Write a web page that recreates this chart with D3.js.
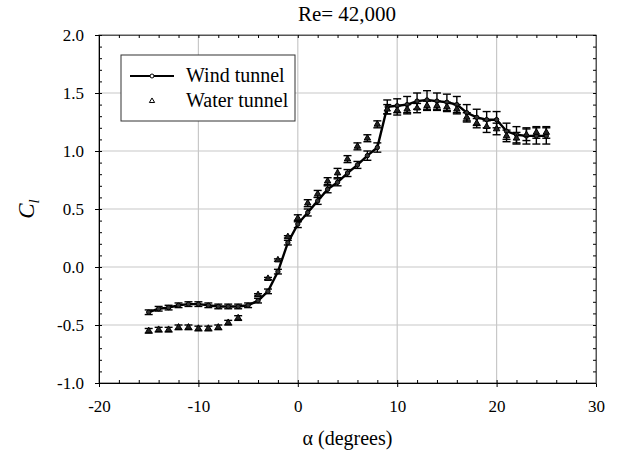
<!DOCTYPE html>
<html>
<head>
<meta charset="utf-8">
<script src="https://cdn.jsdelivr.net/npm/d3@7"></script>
<style>
body { margin: 0; background: #fff; }
</style>
</head>
<body>
<div id="chart"></div>
<script>
// angle of attack, degrees
var alphas = [-15,-14,-13,-12,-11,-10,-9,-8,-7,-6,-5,-4,-3,-2,-1,0,1,2,3,4,5,6,7,8,9,10,11,12,13,14,15,16,17,18,19,20,21,22,23,24,25];

var windCl = [-0.39,-0.36,-0.35,-0.33,-0.32,-0.32,-0.33,-0.34,-0.34,-0.34,-0.33,-0.29,-0.21,-0.04,0.21,0.37,0.47,0.57,0.67,0.73,0.81,0.88,0.96,1.03,1.38,1.39,1.40,1.43,1.44,1.43,1.42,1.40,1.33,1.29,1.27,1.27,1.17,1.14,1.13,1.13,1.13];
var windErr = [0.02,0.02,0.02,0.02,0.02,0.02,0.02,0.02,0.02,0.02,0.02,0.02,0.02,0.02,0.02,0.03,0.03,0.03,0.03,0.03,0.03,0.03,0.04,0.04,0.06,0.06,0.07,0.07,0.08,0.07,0.07,0.07,0.07,0.07,0.07,0.07,0.07,0.07,0.07,0.07,0.07];

var waterCl = [-0.55,-0.54,-0.54,-0.52,-0.52,-0.53,-0.53,-0.52,-0.48,-0.44,null,-0.24,-0.10,0.06,0.26,0.42,0.55,0.63,0.74,0.81,0.93,1.04,1.11,1.23,1.36,1.35,1.36,1.37,1.39,1.39,1.38,1.36,1.29,1.24,1.21,1.19,1.13,1.11,1.14,1.16,1.16];
var waterErr = [0.02,0.02,0.02,0.02,0.02,0.02,0.02,0.02,0.02,0.02,0.02,0.01,0.01,0.01,0.01,0.03,0.03,0.03,0.03,0.04,0.03,0.03,0.03,0.03,0.04,0.04,0.04,0.04,0.04,0.04,0.04,0.04,0.04,0.04,0.05,0.05,0.05,0.05,0.05,0.05,0.05];

var xTicks = [-20,-10,0,10,20,30];
var yTicks = [-1.0,-0.5,0.0,0.5,1.0,1.5,2.0];
var seriesNames = ["Wind tunnel", "Water tunnel"];

var serif = "'Liberation Serif'";
var width = 617, height = 461;
var margin = {top: 35, right: 21, bottom: 78, left: 99};
var w = width - margin.left - margin.right;
var h = height - margin.top - margin.bottom;

var svg = d3.select("#chart").append("svg")
    .attr("width", width)
    .attr("height", height);

var g = svg.append("g")
    .attr("transform", "translate(" + margin.left + "," + margin.top + ")");

var x = d3.scaleLinear().domain([-20, 30]).range([0, w]);
var y = d3.scaleLinear().domain([-1, 2]).range([h, 0]);

// grid
g.selectAll(".vgrid").data(xTicks.slice(1, -1)).enter().append("line")
    .attr("x1", function (d) { return x(d); }).attr("x2", function (d) { return x(d); })
    .attr("y1", 0).attr("y2", h)
    .attr("stroke", "#c8c8c8").attr("stroke-width", 1.2);
g.selectAll(".hgrid").data(yTicks.slice(1, -1)).enter().append("line")
    .attr("y1", function (d) { return y(d); }).attr("y2", function (d) { return y(d); })
    .attr("x1", 0).attr("x2", w)
    .attr("stroke", "#c8c8c8").attr("stroke-width", 1.2);

// frame
g.append("rect").attr("width", w).attr("height", h)
    .attr("fill", "none").attr("stroke", "#555").attr("stroke-width", 1);

// axes (hyphen minus like the original)
var xMinor = d3.range(-20, 30.01, 2);
var yMinor = d3.range(-1, 2.001, 0.1);
function fmtX(d) { return String(d); }
function fmtY(d) { return d.toFixed(1); }

var xAxis = g.append("g").attr("transform", "translate(0," + h + ")")
    .call(d3.axisBottom(x).tickValues(xTicks).tickSize(4).tickPadding(13).tickFormat(fmtX));
xAxis.attr("font-family", null).attr("font-size", null);
xAxis.select(".domain").attr("stroke", "#000");
xAxis.selectAll("text").style("font-size", "17px").style("font-family", serif);

g.append("g").attr("transform", "translate(0," + h + ")")
    .call(d3.axisTop(x).tickValues(xMinor).tickSize(3).tickFormat(""))
    .select(".domain").remove();
g.append("g")
    .call(d3.axisBottom(x).tickValues(xMinor).tickSize(3).tickFormat(""))
    .select(".domain").attr("stroke", "#555");

var yAxis = g.append("g")
    .call(d3.axisLeft(y).tickValues(yTicks).tickSize(4).tickPadding(11).tickFormat(fmtY));
yAxis.attr("font-family", null).attr("font-size", null);
yAxis.select(".domain").attr("stroke", "#000");
yAxis.selectAll("text").style("font-size", "17px").style("font-family", serif);

g.append("g")
    .call(d3.axisRight(y).tickValues(yMinor).tickSize(3).tickFormat(""))
    .select(".domain").remove();
g.append("g").attr("transform", "translate(" + w + ",0)")
    .call(d3.axisLeft(y).tickValues(yMinor).tickSize(3).tickFormat(""))
    .select(".domain").attr("stroke", "#555");

// error bars
function errorBars(vals, errs, cls) {
    var pts = alphas.map(function (a, i) { return {a: a, v: vals[i], e: errs[i]}; })
        .filter(function (d) { return d.v !== null; });
    var eb = g.append("g").attr("class", cls).attr("stroke", "#000").attr("stroke-width", 1.4);
    eb.selectAll(".v").data(pts).enter().append("line")
        .attr("x1", function (d) { return x(d.a); }).attr("x2", function (d) { return x(d.a); })
        .attr("y1", function (d) { return y(d.v - d.e); }).attr("y2", function (d) { return y(d.v + d.e); });
    [-1, 1].forEach(function (s) {
        eb.selectAll(".c" + s).data(pts).enter().append("line")
            .attr("x1", function (d) { return x(d.a) - 4; }).attr("x2", function (d) { return x(d.a) + 4; })
            .attr("y1", function (d) { return y(d.v + s * d.e); }).attr("y2", function (d) { return y(d.v + s * d.e); });
    });
    return pts;
}

var waterPts = errorBars(waterCl, waterErr, "water-err");
var windPts = errorBars(windCl, windErr, "wind-err");

// wind tunnel line
var line = d3.line().x(function (d) { return x(d.a); }).y(function (d) { return y(d.v); });
g.append("path").datum(windPts)
    .attr("d", line).attr("fill", "none").attr("stroke", "#000").attr("stroke-width", 2.4);

g.selectAll(".wind-pt").data(windPts).enter().append("circle")
    .attr("cx", function (d) { return x(d.a); }).attr("cy", function (d) { return y(d.v); })
    .attr("r", 2.2).attr("fill", "#333").attr("stroke", "#000").attr("stroke-width", 1);

var tri = d3.symbol().type(d3.symbolTriangle).size(18);
g.selectAll(".water-pt").data(waterPts).enter().append("path")
    .attr("d", tri)
    .attr("transform", function (d) { return "translate(" + x(d.a) + "," + y(d.v) + ")"; })
    .attr("fill", "#222").attr("stroke", "#000").attr("stroke-width", 1);

// legend
var lg = svg.append("g").attr("transform", "translate(121,55)");
lg.append("rect").attr("width", 174).attr("height", 66)
    .attr("fill", "#fff").attr("stroke", "#333").attr("stroke-width", 1);
lg.append("line").attr("x1", 9).attr("x2", 53).attr("y1", 21).attr("y2", 21)
    .attr("stroke", "#000").attr("stroke-width", 2);
lg.append("circle").attr("cx", 31).attr("cy", 21).attr("r", 2)
    .attr("fill", "#fff").attr("stroke", "#000");
lg.append("path").attr("d", d3.symbol().type(d3.symbolTriangle).size(12)).attr("transform", "translate(31,46)")
    .attr("fill", "#fff").attr("stroke", "#000");
lg.selectAll(".lt").data(seriesNames).enter().append("text")
    .attr("x", 65).attr("y", function (d, i) { return 27 + i * 25; })
    .style("font-size", "20px").style("font-family", serif).text(function (d) { return d; });

// titles
svg.append("text").attr("x", 347).attr("y", 21)
    .attr("text-anchor", "middle").style("font-size", "21px").style("font-family", serif)
    .text("Re= 42,000");

svg.append("text").attr("x", margin.left + w / 2).attr("y", 445)
    .attr("text-anchor", "middle").style("font-size", "20px").style("font-family", serif)
    .text("α (degrees)");

var yl = svg.append("text")
    .attr("transform", "translate(34," + (margin.top + h / 2) + ") rotate(-90)")
    .attr("text-anchor", "middle").style("font-size", "23px").style("font-family", serif);
yl.append("tspan").style("font-style", "italic").text("C");
yl.append("tspan").style("font-style", "italic").style("font-size", "15px").attr("dy", 5).text("l");
</script>
</body>
</html>
